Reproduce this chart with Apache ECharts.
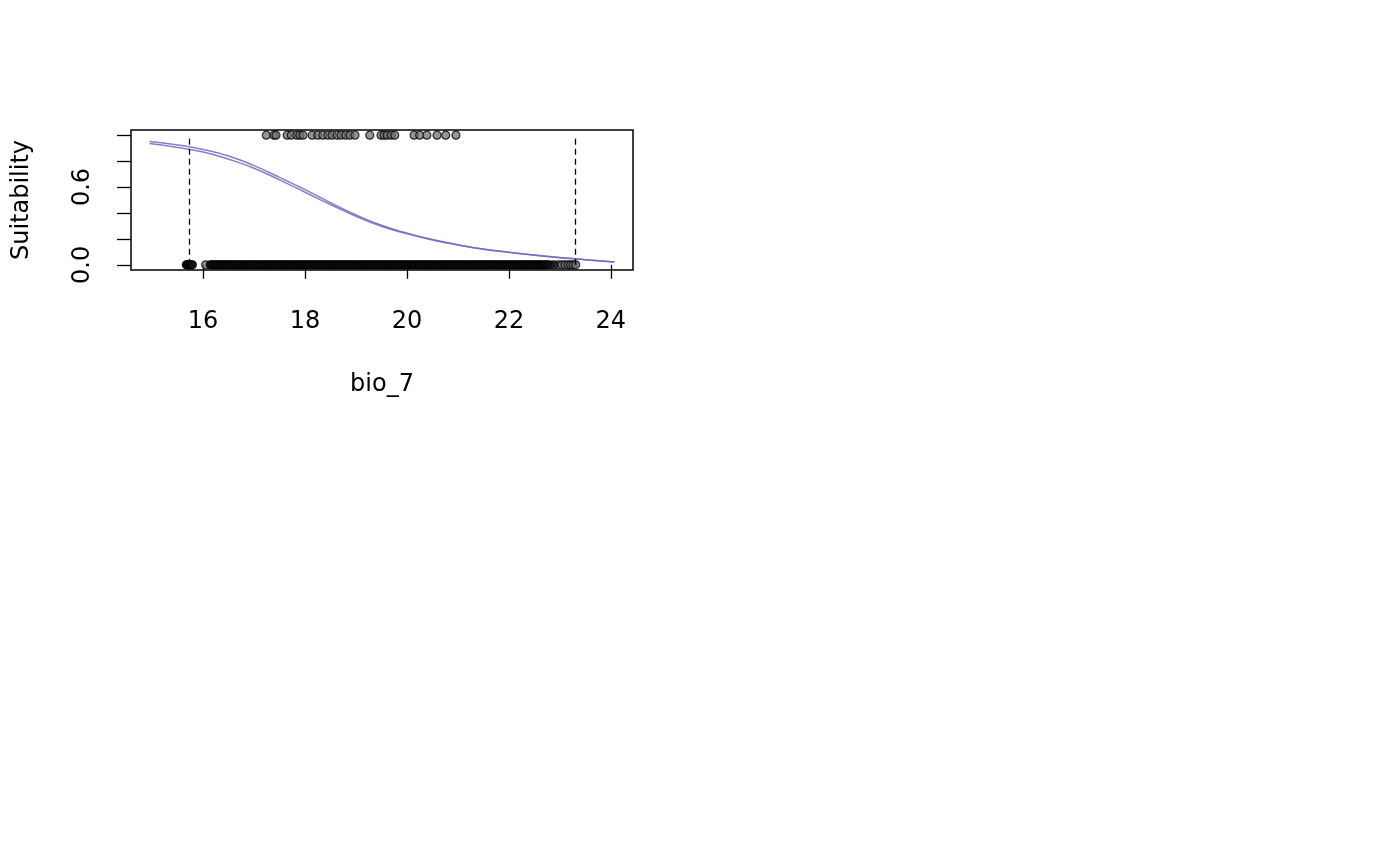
<!DOCTYPE html>
<html>
<head>
<meta charset="utf-8">
<script src="https://cdn.jsdelivr.net/npm/echarts@6/dist/echarts.min.js"></script>
<style>
html,body{margin:0;padding:0;background:#fff;}
#chart{width:1400px;height:866px;}
</style>
</head>
<body>
<div id="chart"></div>
<script>
// ---- data ----
const curveX = [14.95, 15.5, 16, 16.5, 17, 17.5, 18, 18.5, 19, 19.5, 20, 20.5, 21, 21.5, 22, 22.5, 23, 23.5, 24.07];
const curveUpper = [0.952, 0.925, 0.89, 0.84, 0.765, 0.675, 0.58, 0.48, 0.385, 0.305, 0.245, 0.195, 0.155, 0.122, 0.097, 0.075, 0.056, 0.04, 0.022];
const curveLower = [0.935, 0.905, 0.87, 0.815, 0.745, 0.655, 0.56, 0.465, 0.375, 0.297, 0.24, 0.192, 0.153, 0.12, 0.096, 0.074, 0.055, 0.04, 0.022];
const presenceX = [17.24, 17.39, 17.43, 17.65, 17.73, 17.84, 17.90, 17.96, 18.14, 18.25, 18.35, 18.45, 18.53, 18.63, 18.71, 18.80, 18.88, 18.98, 19.27, 19.49, 19.55, 19.61, 19.69, 19.76, 20.14, 20.25, 20.39, 20.59, 20.76, 20.96];
// dense absences (overlapping so heavily they read as solid black)
const absenceDenseX = [15.67,15.69,15.70,15.73,15.75,15.76,15.79,16.14,16.17,16.2,16.23,16.26,16.29,16.31,16.35,16.38,16.41,16.44,16.47,16.5,16.53,16.57,16.6,16.63,16.66,16.7,16.73,16.76,16.8,16.83,16.86,16.9,16.92,16.95,16.99,17.02,17.05,17.08,17.11,17.15,17.18,17.21,17.24,17.28,17.31,17.34,17.37,17.4,17.43,17.47,17.5,17.53,17.56,17.6,17.63,17.66,17.69,17.73,17.76,17.8,17.83,17.86,17.89,17.92,17.95,17.99,18.02,18.05,18.08,18.12,18.15,18.18,18.21,18.25,18.28,18.31,18.34,18.38,18.41,18.44,18.47,18.5,18.54,18.57,18.6,18.63,18.66,18.7,18.73,18.76,18.79,18.83,18.86,18.89,18.92,18.96,18.99,19.02,19.05,19.09,19.12,19.15,19.18,19.22,19.25,19.28,19.31,19.35,19.38,19.41,19.44,19.47,19.5,19.54,19.57,19.6,19.63,19.67,19.7,19.73,19.76,19.8,19.83,19.86,19.89,19.93,19.96,19.99,20.02,20.06,20.09,20.12,20.15,20.19,20.22,20.25,20.28,20.31,20.35,20.38,20.41,20.44,20.47,20.51,20.54,20.57,20.6,20.64,20.67,20.7,20.73,20.77,20.8,20.83,20.86,20.9,20.93,20.96,20.99,21.03,21.06,21.09,21.12,21.16,21.19,21.22,21.25,21.29,21.32,21.35,21.38,21.42,21.45,21.48,21.51,21.55,21.58,21.61,21.64,21.68,21.71,21.74,21.77,21.81,21.84,21.87,21.9,21.94,21.97,22.0,22.04,22.07,22.1,22.13,22.17,22.2,22.23,22.26,22.3,22.33,22.36,22.39,22.43,22.46,22.49,22.52,22.56,22.59,22.62,22.65,22.69,22.72,22.76,22.8,22.88];
// sparser absences where single circles remain visible
const absenceSparseX = [16.05, 22.97, 23.04, 23.1, 23.16, 23.21, 23.26, 23.31];
const rangeLimits = [15.72, 23.3];
const xTicks = [16, 18, 20, 22, 24];
const yTicks = [0, 0.2, 0.4, 0.6, 0.8, 1.0];
const yLabels = [0, 0.6];
const xName = 'bio_7';
const yName = 'Suitability';

const FONT = 'DejaVu Sans';
const chart = echarts.init(document.getElementById('chart'), null, {renderer: 'canvas'});

const pointStyle = {color: 'rgba(110,110,110,0.9)', borderColor: '#000', borderWidth: 1.2};
const denseStyle = {color: '#141414', borderColor: '#000', borderWidth: 1.2};

chart.setOption({
  animation: false,
  backgroundColor: '#fff',
  grid: {left: 131, top: 130, width: 502, height: 140, show: true, borderColor: '#000', borderWidth: 1.5, backgroundColor: 'transparent'},
  xAxis: {
    type: 'value', min: 14.585, max: 24.435,
    name: xName, nameLocation: 'middle', nameGap: 103,
    nameTextStyle: {fontFamily: FONT, fontSize: 24, color: '#000'},
    axisLine: {show: false},
    splitLine: {show: false},
    axisTick: {show: true, length: 14, inside: false, customValues: xTicks, lineStyle: {color: '#000', width: 1.3}},
    axisLabel: {customValues: xTicks, margin: 40, fontFamily: FONT, fontSize: 24, color: '#000'}
  },
  yAxis: {
    type: 'value', min: -0.04, max: 1.04,
    name: yName, nameLocation: 'middle', nameGap: 97, nameRotate: 90,
    nameTextStyle: {fontFamily: FONT, fontSize: 24, color: '#000'},
    axisLine: {show: false},
    splitLine: {show: false},
    axisTick: {show: true, length: 14, customValues: yTicks, lineStyle: {color: '#000', width: 1.3}},
    axisLabel: {customValues: yLabels, rotate: 90, margin: 36, fontFamily: FONT, fontSize: 24, color: '#000',
      formatter: v => v.toFixed(1)}
  },
  series: [
    {
      type: 'line', data: [], z: 1, silent: true,
      markLine: {
        symbol: 'none', silent: true, label: {show: false},
        lineStyle: {color: '#000', width: 1.3, type: [6, 4]},
        data: rangeLimits.map(v => [{coord: [v, 0]}, {coord: [v, 1]}])
      }
    },
    {
      type: 'scatter', z: 3, symbol: 'circle', symbolSize: 8,
      data: absenceSparseX.map(v => [v, 0]), itemStyle: pointStyle
    },
    {
      type: 'scatter', z: 3, symbol: 'circle', symbolSize: 8,
      data: absenceDenseX.map(v => [v, 0]), itemStyle: denseStyle
    },
    {
      type: 'scatter', z: 3, symbol: 'circle', symbolSize: 8,
      data: presenceX.map(v => [v, 1]), itemStyle: pointStyle
    },
    {
      type: 'line', z: 4, smooth: true, showSymbol: false,
      data: curveX.map((x, i) => [x, curveUpper[i]]),
      lineStyle: {color: 'rgba(110,105,190,0.85)', width: 1.5}
    },
    {
      type: 'line', z: 4, smooth: true, showSymbol: false,
      data: curveX.map((x, i) => [x, curveLower[i]]),
      lineStyle: {color: 'rgba(110,105,190,0.85)', width: 1.5}
    }
  ]
});
</script>
</body>
</html>
